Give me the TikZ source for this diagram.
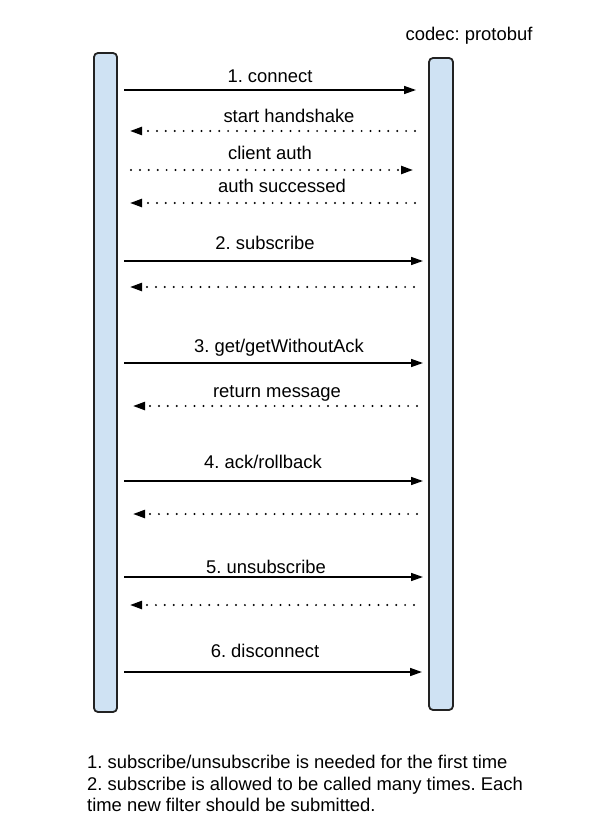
\documentclass[tikz,border=0pt]{standalone}
\usepackage{fontspec}
\setmainfont{Liberation Sans}
\usetikzlibrary{arrows.meta}
\definecolor{barfill}{HTML}{CFE2F3}
\definecolor{ink}{HTML}{222222}
\frenchspacing
\begin{document}
\begin{tikzpicture}[x=1pt,y=-1pt,
  bar/.style={draw=ink, line width=1.8pt, fill=barfill, rounded corners=4pt, inner sep=0pt},
  msg/.style={line width=1.5pt, -{Triangle[length=12pt,width=8pt]}},
  reply/.style={line width=2.2pt, line cap=round, dash pattern=on 0pt off 8.9pt, -{Triangle[length=12pt,width=8pt,line cap=butt]}},
  lbl/.style={anchor=base, inner sep=0pt, font=\fontsize{18.4}{22}\selectfont\frenchspacing},
  note/.style={anchor=base west, inner sep=0pt, font=\fontsize{18.4}{22}\selectfont\frenchspacing}]
\useasboundingbox (0,0) rectangle (589,826);
\fill[white] (0,0) rectangle (589,826);

\node[bar, minimum width=23pt, minimum height=659pt] (client) at (105.5,382.5) {};
\node[bar, minimum width=24pt, minimum height=652pt] (server) at (441,384) {};
\node[lbl] (codec) at (469,41) {codec: protobuf};

% 1. connect
\coordinate (a1s) at (124,90);  \coordinate (a1e) at (416,90);
\draw[msg] (a1s) -- (a1e);
\node[lbl] (l1) at (270,83) {1. connect};
% start handshake
\coordinate (a2s) at (415,131); \coordinate (a2e) at (130,131);
\draw[reply] (a2s) -- (a2e);
\node[lbl] (l2) at (289,123) {start handshake};
% client auth
\coordinate (a3s) at (131,170); \coordinate (a3e) at (413,170);
\draw[reply] (a3s) -- (a3e);
\node[lbl] (l3) at (270,160) {client auth};
% auth successed
\coordinate (a4s) at (415,203); \coordinate (a4e) at (130,203);
\draw[reply] (a4s) -- (a4e);
\node[lbl] (l4) at (282,193) {auth successed};
% 2. subscribe
\coordinate (a5s) at (124,261); \coordinate (a5e) at (423,261);
\draw[msg] (a5s) -- (a5e);
\node[lbl] (l5) at (265,249) {2. subscribe};
\coordinate (a6s) at (414,287); \coordinate (a6e) at (130,287);
\draw[reply] (a6s) -- (a6e);
% 3. get
\coordinate (a7s) at (124,363); \coordinate (a7e) at (423,363);
\draw[msg] (a7s) -- (a7e);
\node[lbl] (l7) at (279,352) {3. get/getWithoutAck};
% return message
\coordinate (a8s) at (417,406); \coordinate (a8e) at (133,406);
\draw[reply] (a8s) -- (a8e);
\node[lbl] (l8) at (277,397) {return message};
% 4. ack
\coordinate (a9s) at (124,481); \coordinate (a9e) at (423,481);
\draw[msg] (a9s) -- (a9e);
\node[lbl] (l9) at (263,468) {4. ack/rollback};
\coordinate (a10s) at (417,514); \coordinate (a10e) at (133,514);
\draw[reply] (a10s) -- (a10e);
% 5. unsubscribe
\coordinate (a11s) at (124,577); \coordinate (a11e) at (423,577);
\draw[msg] (a11s) -- (a11e);
\node[lbl] (l11) at (266,573) {5. unsubscribe};
\coordinate (a12s) at (414,605); \coordinate (a12e) at (130,605);
\draw[reply] (a12s) -- (a12e);
% 6. disconnect
\coordinate (a13s) at (124,672); \coordinate (a13e) at (422,672);
\draw[msg] (a13s) -- (a13e);
\node[lbl] (l13) at (265,657) {6. disconnect};

\node[note] (n1) at (87,768) {1. subscribe/unsubscribe is needed for the first time};
\node[note] (n2) at (87,790) {2. subscribe is allowed to be called many times. Each};
\node[note] (n3) at (87,811) {time new filter should be submitted.};
\end{tikzpicture}
\end{document}
